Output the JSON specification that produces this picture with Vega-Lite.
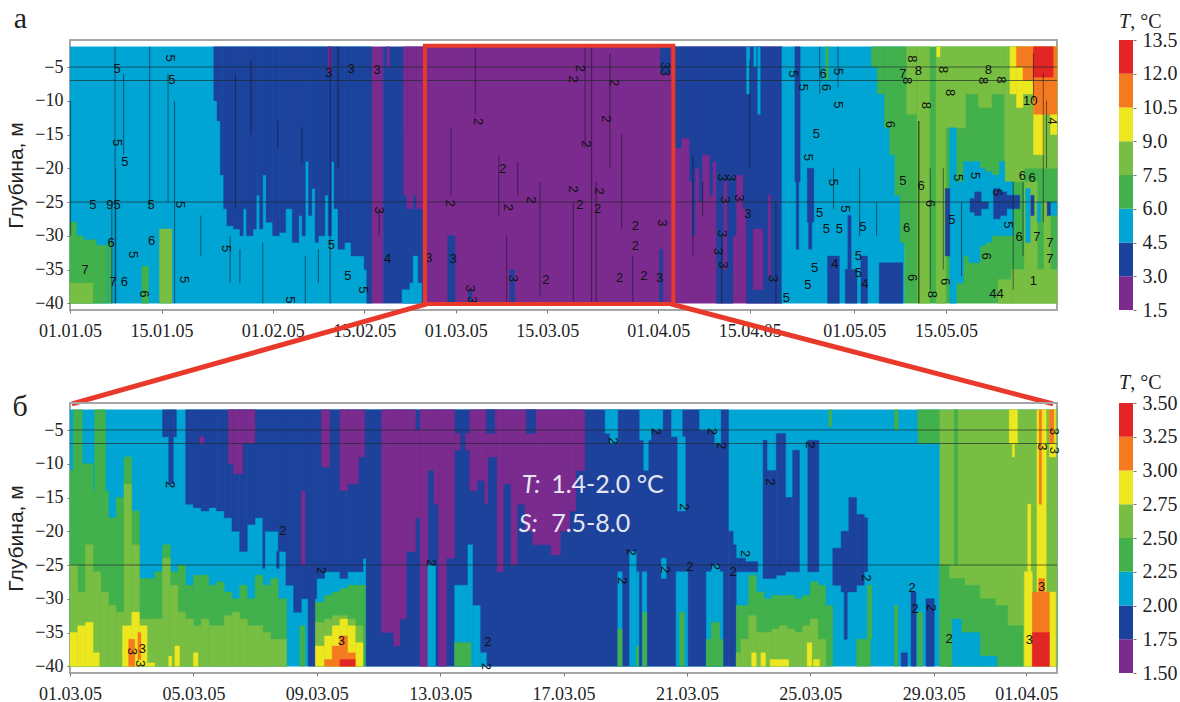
{
"$schema":"https://vega.github.io/schema/vega-lite/v6.json",
"background":"white",
"padding":{"left":4,"top":2,"right":2,"bottom":2},
"config":{"view":{"stroke":null},"axis":{"grid":false,"domain":false,"tickColor":"#777","tickSize":3,"labelFont":"Liberation Sans Narrow","labelFontSize":18,"labelColor":"#222","labelOverlap":false,"labelBound":false,"labelFlush":false}},
"datasets":{
"cellsA":[
{"x0":0,"x1":46,"z0":-2,"z1":-40,"T":5},
{"x0":0,"x1":1,"z0":-28,"z1":-40,"T":7},{"x0":1,"x1":2,"z0":-30,"z1":-40,"T":7},{"x0":2,"x1":4,"z0":-30.6,"z1":-40,"T":7},{"x0":4,"x1":5.7,"z0":-31.4,"z1":-40,"T":7},
{"x0":0,"x1":3.5,"z0":-37,"z1":-40,"T":8},{"x0":5.9,"x1":6.4,"z0":-31,"z1":-40,"T":7},{"x0":11,"x1":12,"z0":-34.5,"z1":-40,"T":7},{"x0":13.7,"x1":15.6,"z0":-29,"z1":-40,"T":8},
{"x0":22,"x1":22.5,"z0":-2,"z1":-10,"T":4},{"x0":22.5,"x1":23,"z0":-2,"z1":-13,"T":4},{"x0":23,"x1":23.5,"z0":-2,"z1":-21,"T":4},{"x0":23.5,"x1":24,"z0":-2,"z1":-26,"T":4},
{"x0":24,"x1":25,"z0":-2,"z1":-28.5,"T":4},{"x0":25,"x1":26,"z0":-2,"z1":-29,"T":4},{"x0":26,"x1":26.5,"z0":-2,"z1":-30,"T":4},{"x0":26.5,"x1":27,"z0":-2,"z1":-26,"T":4},{"x0":27,"x1":28,"z0":-2,"z1":-30,"T":4},{"x0":28,"x1":28.5,"z0":-2,"z1":-29,"T":4},{"x0":28.5,"x1":29,"z0":-2,"z1":-24,"T":4},{"x0":29,"x1":29.5,"z0":-2,"z1":-29,"T":4},{"x0":29.5,"x1":30,"z0":-2,"z1":-21,"T":4},{"x0":30,"x1":31,"z0":-2,"z1":-28,"T":4},{"x0":31,"x1":32,"z0":-2,"z1":-30,"T":4},{"x0":32,"x1":33,"z0":-2,"z1":-29.5,"T":4},{"x0":33,"x1":34,"z0":-2,"z1":-26,"T":4},{"x0":34,"x1":35,"z0":-2,"z1":-31,"T":4},{"x0":35,"x1":35.5,"z0":-2,"z1":-27,"T":4},{"x0":35.5,"x1":36,"z0":-2,"z1":-30,"T":4},{"x0":36,"x1":36.5,"z0":-2,"z1":-19,"T":4},{"x0":36.5,"x1":37,"z0":-2,"z1":-27,"T":4},{"x0":37,"x1":37.5,"z0":-2,"z1":-23,"T":4},{"x0":37.5,"x1":38,"z0":-2,"z1":-31,"T":4},{"x0":38,"x1":39,"z0":-2,"z1":-30,"T":4},{"x0":39,"x1":39.5,"z0":-2,"z1":-24,"T":4},{"x0":39.5,"x1":40,"z0":-2,"z1":-30,"T":4},{"x0":40,"x1":40.4,"z0":-2,"z1":-19,"T":4},{"x0":40.4,"x1":41,"z0":-2,"z1":-26,"T":4},{"x0":41,"x1":42,"z0":-2,"z1":-32,"T":4},{"x0":42,"x1":43,"z0":-2,"z1":-31,"T":4},{"x0":43,"x1":44,"z0":-2,"z1":-33,"T":4},{"x0":44,"x1":45,"z0":-2,"z1":-33,"T":4},{"x0":45,"x1":45.4,"z0":-2,"z1":-35,"T":4},{"x0":45.4,"x1":46.2,"z0":-2,"z1":-40,"T":4},
{"x0":39.5,"x1":40,"z0":-2,"z1":-6,"T":2},
{"x0":46.2,"x1":47.9,"z0":-2,"z1":-40,"T":2},{"x0":47.9,"x1":54,"z0":-2,"z1":-40,"T":4},{"x0":48.5,"x1":48.9,"z0":-2,"z1":-5,"T":2},
{"x0":51,"x1":51.5,"z0":-15,"z1":-24,"T":2},{"x0":51.5,"x1":52.5,"z0":-2,"z1":-26,"T":2},{"x0":51,"x1":51.5,"z0":-2,"z1":-15,"T":2},{"x0":52.5,"x1":53,"z0":-2,"z1":-24,"T":2},{"x0":53,"x1":54,"z0":-2,"z1":-26,"T":2},
{"x0":50.8,"x1":52,"z0":-38,"z1":-40,"T":5},{"x0":52,"x1":52.5,"z0":-37,"z1":-40,"T":5},{"x0":52.5,"x1":53.2,"z0":-33,"z1":-40,"T":5},{"x0":53.2,"x1":53.8,"z0":-37,"z1":-40,"T":5},
{"x0":54,"x1":109,"z0":-2,"z1":-40,"T":2},
{"x0":57.8,"x1":58.9,"z0":-30,"z1":-40,"T":4},{"x0":61,"x1":61.5,"z0":-38,"z1":-40,"T":4},{"x0":67.3,"x1":68,"z0":-35,"z1":-40,"T":4},{"x0":90.2,"x1":90.7,"z0":-32,"z1":-40,"T":4},{"x0":90.3,"x1":91.8,"z0":-2,"z1":-6,"T":4},
{"x0":92.4,"x1":93.5,"z0":-2,"z1":-17,"T":4},{"x0":93.5,"x1":94.8,"z0":-2,"z1":-15.5,"T":4},{"x0":94.8,"x1":95.2,"z0":-2,"z1":-22,"T":4},{"x0":95.2,"x1":95.6,"z0":-2,"z1":-30,"T":4},{"x0":95.6,"x1":96.3,"z0":-2,"z1":-20,"T":4},{"x0":96.3,"x1":96.7,"z0":-2,"z1":-25,"T":4},{"x0":96.7,"x1":97.9,"z0":-2,"z1":-18,"T":4},{"x0":97.9,"x1":98.3,"z0":-2,"z1":-24,"T":4},{"x0":98.3,"x1":98.9,"z0":-2,"z1":-19,"T":4},{"x0":98.9,"x1":101.4,"z0":-2,"z1":-40,"T":4},{"x0":100,"x1":100.5,"z0":-22,"z1":-35,"T":2},{"x0":101.4,"x1":101.9,"z0":-2,"z1":-30,"T":4},{"x0":101.9,"x1":103,"z0":-2,"z1":-21,"T":4},{"x0":103,"x1":103.5,"z0":-2,"z1":-26,"T":4},{"x0":103.5,"x1":108.9,"z0":-2,"z1":-40,"T":4},{"x0":104.5,"x1":106,"z0":-29,"z1":-38,"T":2},{"x0":106.8,"x1":107.2,"z0":-24,"z1":-36,"T":2},{"x0":103.5,"x1":104,"z0":-2,"z1":-9,"T":5},{"x0":104.6,"x1":105,"z0":-2,"z1":-5,"T":5},{"x0":105.2,"x1":105.6,"z0":-2,"z1":-12,"T":5},
{"x0":108.9,"x1":127.7,"z0":-2,"z1":-40,"T":5},
{"x0":110.9,"x1":111.7,"z0":-2,"z1":-22,"T":4},{"x0":111.1,"x1":111.5,"z0":-22,"z1":-32,"T":4},{"x0":112.8,"x1":113.8,"z0":-20,"z1":-28,"T":4},{"x0":113,"x1":113.5,"z0":-28,"z1":-32,"T":4},{"x0":115.9,"x1":117.7,"z0":-33,"z1":-40,"T":4},{"x0":118.6,"x1":120.4,"z0":-35,"z1":-40,"T":4},{"x0":119,"x1":119.5,"z0":-27,"z1":-35,"T":4},{"x0":121,"x1":122,"z0":-33,"z1":-40,"T":4},{"x0":123.8,"x1":127.4,"z0":-34,"z1":-40,"T":4},
{"x0":115.6,"x1":116,"z0":-2,"z1":-7,"T":7},{"x0":122.6,"x1":124.6,"z0":-2,"z1":-5,"T":7},{"x0":123.5,"x1":124.6,"z0":-5,"z1":-9,"T":7},
{"x0":124.6,"x1":125.4,"z0":-2,"z1":-14,"T":7},{"x0":125.4,"x1":126.2,"z0":-2,"z1":-18,"T":7},{"x0":126.2,"x1":127,"z0":-2,"z1":-24,"T":7},{"x0":127,"x1":127.7,"z0":-2,"z1":-31,"T":7},{"x0":127.7,"x1":151,"z0":-2,"z1":-40,"T":7},
{"x0":128,"x1":129.5,"z0":-2,"z1":-12,"T":8},{"x0":129.6,"x1":131.5,"z0":-2,"z1":-40,"T":8},{"x0":132.5,"x1":134,"z0":-2,"z1":-40,"T":8},{"x0":134,"x1":137,"z0":-2,"z1":-14,"T":8},{"x0":137,"x1":143,"z0":-2,"z1":-9,"T":8},{"x0":139,"x1":141,"z0":-9,"z1":-11,"T":8},{"x0":143,"x1":146,"z0":-2,"z1":-22,"T":8},{"x0":146,"x1":151,"z0":-2,"z1":-20,"T":8},{"x0":144,"x1":151,"z0":-35,"z1":-40,"T":8},{"x0":142,"x1":144,"z0":-36.5,"z1":-40,"T":8},{"x0":146,"x1":148,"z0":-22,"z1":-35,"T":8},{"x0":149,"x1":150,"z0":-25,"z1":-35,"T":8},
{"x0":134.6,"x1":135.6,"z0":-14,"z1":-40,"T":5},{"x0":135.6,"x1":136.7,"z0":-22,"z1":-37,"T":5},{"x0":136.7,"x1":137.5,"z0":-19,"z1":-33,"T":5},{"x0":137.5,"x1":139.2,"z0":-19,"z1":-34,"T":5},{"x0":139.2,"x1":140,"z0":-20,"z1":-31.5,"T":5},{"x0":140,"x1":141,"z0":-20.5,"z1":-31,"T":5},{"x0":141,"x1":142.2,"z0":-21,"z1":-30,"T":5},{"x0":142.2,"x1":143,"z0":-19,"z1":-30,"T":5},{"x0":143,"x1":144.3,"z0":-22,"z1":-30,"T":5},
{"x0":146.2,"x1":146.9,"z0":-23,"z1":-31,"T":5},{"x0":148,"x1":148.5,"z0":-25,"z1":-28,"T":5},{"x0":150,"x1":151,"z0":-25,"z1":-27,"T":5},
{"x0":133.9,"x1":134.6,"z0":-23,"z1":-33,"T":4},{"x0":137.7,"x1":138.4,"z0":-24.5,"z1":-26.5,"T":4},{"x0":138.4,"x1":139.4,"z0":-23.5,"z1":-27,"T":4},{"x0":139.4,"x1":140.5,"z0":-25,"z1":-26,"T":4},{"x0":141.3,"x1":142.3,"z0":-23,"z1":-27.5,"T":4},{"x0":142.3,"x1":143.3,"z0":-23.5,"z1":-27,"T":4},{"x0":143.3,"x1":145.3,"z0":-24,"z1":-26,"T":4},{"x0":147,"x1":147.5,"z0":-24,"z1":-27,"T":4},{"x0":149.5,"x1":150,"z0":-25,"z1":-27,"T":4},
{"x0":132.6,"x1":133.1,"z0":-2,"z1":-3.5,"T":10},{"x0":143.8,"x1":144.8,"z0":-2,"z1":-9,"T":10},{"x0":144.8,"x1":145.8,"z0":-2,"z1":-11,"T":10},{"x0":145.8,"x1":147.4,"z0":-2,"z1":-9,"T":10},{"x0":147.4,"x1":149,"z0":-2,"z1":-18,"T":10},{"x0":150,"x1":151,"z0":-2,"z1":-15,"T":10},
{"x0":144.8,"x1":145.8,"z0":-2,"z1":-5,"T":11},{"x0":145.8,"x1":147.4,"z0":-2,"z1":-7,"T":11},{"x0":147.4,"x1":150.5,"z0":-2,"z1":-12,"T":11},{"x0":147.4,"x1":150.5,"z0":-2,"z1":-6.5,"T":13},{"x0":150.5,"x1":151,"z0":-2,"z1":-12,"T":11}
],
"streaksA":[
{"x":6.9,"z0":-2,"z1":-40},{"x":8.2,"z0":-6,"z1":-18},{"x":12.2,"z0":-2,"z1":-26},{"x":15,"z0":-6,"z1":-25},{"x":16,"z0":-10,"z1":-40},{"x":7,"z0":-20,"z1":-40},{"x":0.1,"z0":-10,"z1":-30},{"x":6.4,"z0":-25,"z1":-40},{"x":20,"z0":-27,"z1":-33},{"x":24.5,"z0":-30,"z1":-37},{"x":26,"z0":-32,"z1":-37},{"x":29.5,"z0":-31,"z1":-40},{"x":36,"z0":-33,"z1":-40},{"x":38,"z0":-32,"z1":-37},{"x":41,"z0":-2,"z1":-20},{"x":39.8,"z0":-2,"z1":-40},{"x":25.3,"z0":-6,"z1":-26},{"x":27.7,"z0":-4,"z1":-15},{"x":47.3,"z0":-26,"z1":-30},{"x":31.8,"z0":-13,"z1":-17},{"x":35.5,"z0":-14,"z1":-19},
{"x":58.3,"z0":-14,"z1":-24},{"x":62,"z0":-2,"z1":-12},{"x":65.6,"z0":-18,"z1":-27},{"x":68.5,"z0":-19,"z1":-24},{"x":71.9,"z0":-22,"z1":-39},{"x":66.8,"z0":-30,"z1":-40},{"x":78.8,"z0":-2,"z1":-17},{"x":79.8,"z0":-2,"z1":-40},{"x":82.6,"z0":-3,"z1":-20},{"x":80.5,"z0":-22,"z1":-40},{"x":84.4,"z0":-15,"z1":-29},{"x":86.1,"z0":-33,"z1":-40},{"x":77,"z0":-25,"z1":-40},{"x":95.3,"z0":-18,"z1":-33},{"x":96.8,"z0":-22,"z1":-27},{"x":99.7,"z0":-30,"z1":-40},{"x":108,"z0":-25,"z1":-40},{"x":104,"z0":-4,"z1":-20},
{"x":114.7,"z0":-2,"z1":-9},{"x":117.5,"z0":-2,"z1":-8},{"x":129.8,"z0":-13,"z1":-40},{"x":129.9,"z0":-13,"z1":-40},{"x":131.6,"z0":-20,"z1":-38},{"x":133.6,"z0":-20,"z1":-35},{"x":136.4,"z0":-25,"z1":-36},{"x":144.3,"z0":-22,"z1":-38},{"x":145.8,"z0":-22,"z1":-33},{"x":148.9,"z0":-6,"z1":-28},{"x":149.4,"z0":-10,"z1":-20},{"x":147.4,"z0":-3,"z1":-10},{"x":123.4,"z0":-25,"z1":-30},{"x":120.8,"z0":-20,"z1":-30},{"x":116.8,"z0":-20,"z1":-26}
],
"labelsA":[
{"x":7.2,"z":-5.3,"label":"5"},{"x":8.4,"z":-19,"label":"5"},{"x":3.5,"z":-25.5,"label":"5"},{"x":6.1,"z":-25.5,"label":"9"},{"x":7.2,"z":-25.5,"label":"5"},{"x":12.4,"z":-25.5,"label":"5"},{"x":15.6,"z":-6.9,"label":"5"},{"x":2.3,"z":-35,"label":"7"},{"x":6.6,"z":-36.8,"label":"7"},{"x":8.3,"z":-36.8,"label":"6"},{"x":6.3,"z":-31,"label":"6"},{"x":12.5,"z":-30.8,"label":"6"},{"x":42.5,"z":-36,"label":"5"},{"x":40,"z":-31.3,"label":"5"},{"x":39.6,"z":-5.9,"label":"3"},{"x":43,"z":-5.3,"label":"3"},{"x":47,"z":-5.4,"label":"3"},{"x":48.6,"z":-33.5,"label":"4"},{"x":54.9,"z":-33.3,"label":"3"},{"x":58.6,"z":-33.5,"label":"3"},{"x":66.2,"z":-20.1,"label":"2"},{"x":72.8,"z":-36.5,"label":"2"},{"x":84.1,"z":-36.2,"label":"2"},{"x":87.8,"z":-36,"label":"2"},{"x":90.2,"z":-36.2,"label":"3"},{"x":86.5,"z":-28.5,"label":"2"},{"x":86.5,"z":-31.5,"label":"2"},{"x":103.7,"z":-26.8,"label":"3"},{"x":80.7,"z":-26,"label":"2"},{"x":78,"z":-25.5,"label":"2"},
{"x":114.2,"z":-14.9,"label":"5"},{"x":114.7,"z":-26.6,"label":"5"},{"x":115.7,"z":-29,"label":"5"},{"x":117.7,"z":-29,"label":"5"},{"x":121.3,"z":-28.7,"label":"5"},{"x":113.9,"z":-34.8,"label":"5"},{"x":112.9,"z":-37.3,"label":"5"},{"x":109.6,"z":-39.2,"label":"5"},{"x":120.6,"z":-33,"label":"5"},{"x":120.6,"z":-35.5,"label":"5"},{"x":117,"z":-34.2,"label":"4"},{"x":121.6,"z":-37.1,"label":"4"},{"x":115.2,"z":-6,"label":"6"},{"x":129.8,"z":-5.6,"label":"8"},{"x":140.5,"z":-5.5,"label":"8"},{"x":127.4,"z":-6,"label":"7"},{"x":130.2,"z":-22.6,"label":"6"},{"x":128,"z":-28.8,"label":"6"},{"x":134.9,"z":-27.6,"label":"5"},{"x":127.4,"z":-21.9,"label":"5"},{"x":146.9,"z":-10,"label":"10"},{"x":145.7,"z":-21.1,"label":"6"},{"x":147.2,"z":-21.5,"label":"6"},{"x":145.2,"z":-30.2,"label":"6"},{"x":147.9,"z":-30.2,"label":"7"},{"x":149.9,"z":-31,"label":"7"},{"x":149.9,"z":-33.5,"label":"7"},{"x":147.4,"z":-36.7,"label":"1"},{"x":141.2,"z":-38.7,"label":"4"},{"x":142.3,"z":-38.7,"label":"4"}
],
"labelsArot":[
{"x":7.2,"z":-16.2,"label":"5"},{"x":15.3,"z":-3.7,"label":"5"},{"x":16.8,"z":-25.4,"label":"5"},{"x":9.6,"z":-32.8,"label":"5"},{"x":23.9,"z":-31.9,"label":"5"},{"x":17.5,"z":-36.5,"label":"5"},{"x":47.2,"z":-26.2,"label":"3"},{"x":11.3,"z":-38.6,"label":"6"},{"x":44.9,"z":-38,"label":"5"},{"x":33.7,"z":-39.5,"label":"5"},{"x":62.4,"z":-13.1,"label":"2"},{"x":58.1,"z":-25.2,"label":"2"},{"x":67,"z":-25.8,"label":"2"},{"x":70.6,"z":-24.7,"label":"2"},{"x":77,"z":-23.1,"label":"2"},{"x":81,"z":-23.4,"label":"2"},{"x":79,"z":-16.4,"label":"2"},{"x":82,"z":-12.7,"label":"2"},{"x":77,"z":-6.8,"label":"2"},{"x":78,"z":-5.2,"label":"2"},{"x":83.3,"z":-7.3,"label":"2"},{"x":90.5,"z":-28.1,"label":"3"},{"x":99.7,"z":-21.4,"label":"3"},{"x":101.2,"z":-21.4,"label":"3"},{"x":100.2,"z":-24.7,"label":"3"},{"x":102.4,"z":-24.4,"label":"3"},{"x":99.7,"z":-29.7,"label":"3"},{"x":99.1,"z":-32.3,"label":"3"},{"x":99.9,"z":-34.3,"label":"3"},{"x":107.5,"z":-36.3,"label":"3"},{"x":91,"z":-4.8,"label":"3"},{"x":91,"z":-5.8,"label":"3"},{"x":67.7,"z":-36.3,"label":"3"},{"x":61.2,"z":-37.8,"label":"3"},{"x":61.5,"z":-39.5,"label":"3"},
{"x":110.6,"z":-6,"label":"5"},{"x":112.2,"z":-8,"label":"5"},{"x":117.5,"z":-5.7,"label":"5"},{"x":117.5,"z":-10.6,"label":"5"},{"x":112.9,"z":-18.4,"label":"5"},{"x":116.8,"z":-22.1,"label":"5"},{"x":118.5,"z":-26,"label":"5"},{"x":115.6,"z":-8,"label":"6"},{"x":125.4,"z":-13.5,"label":"6"},{"x":134.6,"z":-8.8,"label":"8"},{"x":128.8,"z":-3.8,"label":"8"},{"x":133.6,"z":-5.4,"label":"8"},{"x":142.5,"z":-6.9,"label":"8"},{"x":139.7,"z":-7,"label":"8"},{"x":128,"z":-7,"label":"8"},{"x":131,"z":-10.7,"label":"8"},{"x":131.6,"z":-25.2,"label":"6"},{"x":135.9,"z":-21.4,"label":"5"},{"x":138.4,"z":-21.1,"label":"5"},{"x":141.8,"z":-23.6,"label":"5"},{"x":143.5,"z":-28.4,"label":"5"},{"x":128.8,"z":-36.2,"label":"6"},{"x":133.9,"z":-36.8,"label":"6"},{"x":140.2,"z":-33,"label":"6"},{"x":150.2,"z":-13,"label":"4"},{"x":131.8,"z":-38.7,"label":"8"}
],
"cellsB":[
{"x0":0,"x1":32,"z0":-2,"z1":-40,"T":2.1},
{"x0":0,"x1":0.25,"z0":-11,"z1":-40,"T":2.4},{"x0":0.1,"x1":0.4,"z0":-2,"z1":-11,"T":2.4},{"x0":0.25,"x1":0.5,"z0":-10,"z1":-40,"T":2.4},{"x0":0.5,"x1":0.75,"z0":-10,"z1":-40,"T":2.4},{"x0":0.75,"x1":1,"z0":-14,"z1":-40,"T":2.4},{"x0":0.8,"x1":1.15,"z0":-2,"z1":-14,"T":2.4},{"x0":1,"x1":1.25,"z0":-14,"z1":-40,"T":2.4},{"x0":1.25,"x1":1.5,"z0":-18,"z1":-40,"T":2.4},{"x0":1.5,"x1":1.75,"z0":-15,"z1":-40,"T":2.4},{"x0":1.75,"x1":2,"z0":-9,"z1":-40,"T":2.4},{"x0":2,"x1":2.25,"z0":-17,"z1":-40,"T":2.4},{"x0":2.25,"x1":2.5,"z0":-27,"z1":-40,"T":2.4},{"x0":2.5,"x1":2.75,"z0":-27,"z1":-40,"T":2.4},{"x0":2.75,"x1":3,"z0":-26,"z1":-40,"T":2.4},{"x0":3,"x1":3.25,"z0":-22,"z1":-40,"T":2.4},{"x0":3.25,"x1":3.5,"z0":-26,"z1":-40,"T":2.4},{"x0":3.5,"x1":3.75,"z0":-25,"z1":-40,"T":2.4},{"x0":3.75,"x1":4,"z0":-28,"z1":-40,"T":2.4},{"x0":4,"x1":4.25,"z0":-26.5,"z1":-40,"T":2.4},{"x0":4.25,"x1":4.5,"z0":-26.5,"z1":-40,"T":2.4},{"x0":4.5,"x1":4.75,"z0":-28,"z1":-40,"T":2.4},{"x0":4.75,"x1":5,"z0":-27.5,"z1":-40,"T":2.4},{"x0":5,"x1":5.25,"z0":-29,"z1":-40,"T":2.4},{"x0":5.25,"x1":5.5,"z0":-30,"z1":-40,"T":2.4},{"x0":5.5,"x1":5.75,"z0":-28,"z1":-40,"T":2.4},{"x0":5.75,"x1":6,"z0":-30,"z1":-40,"T":2.4},{"x0":6,"x1":6.25,"z0":-26.5,"z1":-40,"T":2.4},{"x0":6.25,"x1":6.5,"z0":-28,"z1":-40,"T":2.4},{"x0":6.5,"x1":6.75,"z0":-27,"z1":-40,"T":2.4},{"x0":6.75,"x1":7.02,"z0":-30,"z1":-40,"T":2.4},{"x0":7.45,"x1":7.62,"z0":-34,"z1":-40,"T":2.4},
{"x0":7.94,"x1":8.25,"z0":-30.5,"z1":-40,"T":2.4},{"x0":8.25,"x1":8.5,"z0":-29.5,"z1":-40,"T":2.4},{"x0":8.5,"x1":8.75,"z0":-29,"z1":-40,"T":2.4},{"x0":8.75,"x1":9,"z0":-28.5,"z1":-40,"T":2.4},{"x0":9,"x1":9.58,"z0":-28,"z1":-40,"T":2.4},
{"x0":0,"x1":0.25,"z0":-25,"z1":-40,"T":2.6},{"x0":0.25,"x1":0.5,"z0":-29,"z1":-40,"T":2.6},{"x0":0.5,"x1":0.75,"z0":-22,"z1":-40,"T":2.6},{"x0":0.75,"x1":1,"z0":-26,"z1":-40,"T":2.6},{"x0":1,"x1":1.25,"z0":-29,"z1":-40,"T":2.6},{"x0":1.25,"x1":1.5,"z0":-31,"z1":-40,"T":2.6},{"x0":1.5,"x1":1.75,"z0":-32,"z1":-40,"T":2.6},{"x0":1.75,"x1":2,"z0":-13,"z1":-40,"T":2.6},{"x0":2,"x1":2.25,"z0":-22,"z1":-40,"T":2.6},{"x0":2.25,"x1":3,"z0":-33,"z1":-40,"T":2.6},{"x0":3,"x1":3.25,"z0":-24,"z1":-40,"T":2.6},{"x0":3.25,"x1":3.5,"z0":-28,"z1":-40,"T":2.6},{"x0":3.5,"x1":3.75,"z0":-32,"z1":-40,"T":2.6},{"x0":3.75,"x1":4,"z0":-33,"z1":-40,"T":2.6},{"x0":4,"x1":4.25,"z0":-34,"z1":-40,"T":2.6},{"x0":4.25,"x1":4.5,"z0":-33,"z1":-40,"T":2.6},{"x0":4.5,"x1":5,"z0":-34,"z1":-40,"T":2.6},{"x0":5,"x1":5.25,"z0":-32.5,"z1":-40,"T":2.6},{"x0":5.25,"x1":5.5,"z0":-32,"z1":-40,"T":2.6},{"x0":5.5,"x1":5.75,"z0":-33,"z1":-40,"T":2.6},{"x0":5.75,"x1":6.25,"z0":-34,"z1":-40,"T":2.6},{"x0":6.25,"x1":6.5,"z0":-35,"z1":-40,"T":2.6},{"x0":6.5,"x1":7.02,"z0":-36,"z1":-40,"T":2.6},
{"x0":7.94,"x1":8.25,"z0":-33.5,"z1":-40,"T":2.6},{"x0":8.25,"x1":8.5,"z0":-33,"z1":-40,"T":2.6},{"x0":8.5,"x1":9,"z0":-32.5,"z1":-40,"T":2.6},{"x0":9,"x1":9.25,"z0":-33,"z1":-40,"T":2.6},{"x0":9.25,"x1":9.5,"z0":-34,"z1":-40,"T":2.6},
{"x0":0,"x1":0.25,"z0":-35,"z1":-40,"T":2.9},{"x0":0.25,"x1":0.5,"z0":-34,"z1":-40,"T":2.9},{"x0":0.5,"x1":0.75,"z0":-33.5,"z1":-40,"T":2.9},{"x0":0.75,"x1":0.95,"z0":-38,"z1":-40,"T":2.9},{"x0":1.7,"x1":2,"z0":-34,"z1":-40,"T":2.9},{"x0":2,"x1":2.25,"z0":-32,"z1":-40,"T":2.9},{"x0":2.25,"x1":2.5,"z0":-34,"z1":-40,"T":2.9},{"x0":2.5,"x1":2.75,"z0":-39.5,"z1":-40,"T":2.9},{"x0":3.2,"x1":3.3,"z0":-38.5,"z1":-40,"T":2.9},{"x0":3.4,"x1":3.55,"z0":-37,"z1":-40,"T":2.9},{"x0":4,"x1":4.15,"z0":-38,"z1":-40,"T":2.9},{"x0":7.94,"x1":8.25,"z0":-37,"z1":-40,"T":2.9},{"x0":8.25,"x1":8.5,"z0":-35.5,"z1":-40,"T":2.9},{"x0":8.5,"x1":8.75,"z0":-34,"z1":-40,"T":2.9},{"x0":8.75,"x1":9,"z0":-33,"z1":-40,"T":2.9},{"x0":9,"x1":9.25,"z0":-34,"z1":-40,"T":2.9},{"x0":9.25,"x1":9.5,"z0":-36.5,"z1":-40,"T":2.9},
{"x0":1.9,"x1":2.1,"z0":-36,"z1":-40,"T":3.1},{"x0":2.2,"x1":2.3,"z0":-35,"z1":-39,"T":3.1},{"x0":8.25,"x1":8.5,"z0":-39,"z1":-40,"T":3.1},{"x0":8.5,"x1":8.75,"z0":-37,"z1":-40,"T":3.1},{"x0":8.75,"x1":9,"z0":-35.5,"z1":-40,"T":3.1},{"x0":9,"x1":9.25,"z0":-38,"z1":-40,"T":3.1},{"x0":8.75,"x1":9.25,"z0":-39,"z1":-40,"T":3.4},
{"x0":3,"x1":3.2,"z0":-2,"z1":-6,"T":1.9},{"x0":3.2,"x1":3.35,"z0":-2,"z1":-13,"T":1.9},{"x0":3.35,"x1":3.45,"z0":-2,"z1":-6,"T":1.9},
{"x0":3.75,"x1":4,"z0":-2,"z1":-16,"T":1.9},{"x0":4,"x1":4.25,"z0":-2,"z1":-16.5,"T":1.9},{"x0":4.25,"x1":4.5,"z0":-2,"z1":-17,"T":1.9},{"x0":4.5,"x1":4.75,"z0":-2,"z1":-16.5,"T":1.9},{"x0":4.75,"x1":5,"z0":-2,"z1":-17,"T":1.9},{"x0":5,"x1":5.25,"z0":-2,"z1":-18,"T":1.9},{"x0":5.25,"x1":5.5,"z0":-2,"z1":-20,"T":1.9},{"x0":5.5,"x1":5.75,"z0":-2,"z1":-23,"T":1.9},{"x0":5.75,"x1":6,"z0":-2,"z1":-19,"T":1.9},{"x0":6,"x1":6.25,"z0":-2,"z1":-18,"T":1.9},{"x0":6.25,"x1":6.5,"z0":-2,"z1":-20,"T":1.9},{"x0":6.5,"x1":6.75,"z0":-2,"z1":-20,"T":1.9},{"x0":6.75,"x1":7,"z0":-2,"z1":-23,"T":1.9},{"x0":7,"x1":7.25,"z0":-2,"z1":-28,"T":1.9},{"x0":7.25,"x1":7.5,"z0":-2,"z1":-32,"T":1.9},{"x0":7.5,"x1":8,"z0":-2,"z1":-30,"T":1.9},{"x0":8,"x1":8.25,"z0":-2,"z1":-27,"T":1.9},{"x0":8.25,"x1":8.75,"z0":-2,"z1":-26,"T":1.9},{"x0":8.75,"x1":9,"z0":-2,"z1":-27,"T":1.9},{"x0":9,"x1":9.5,"z0":-2,"z1":-26,"T":1.9},{"x0":9.5,"x1":9.6,"z0":-2,"z1":-24,"T":1.9},
{"x0":6.25,"x1":6.32,"z0":-20,"z1":-25.5,"T":1.9},{"x0":6.7,"x1":6.78,"z0":-23,"z1":-25.5,"T":1.9},{"x0":7.72,"x1":7.94,"z0":-30,"z1":-40,"T":1.9},
{"x0":9.6,"x1":21.35,"z0":-2,"z1":-40,"T":1.9},{"x0":21.35,"x1":21.5,"z0":-20,"z1":-40,"T":1.9},{"x0":21.5,"x1":21.6,"z0":-22,"z1":-40,"T":1.9},{"x0":21.6,"x1":21.9,"z0":-24,"z1":-26,"T":1.9},{"x0":21.9,"x1":22.3,"z0":-24.5,"z1":-26,"T":1.9},
{"x0":5.13,"x1":5.3,"z0":-2,"z1":-10,"T":1.6},{"x0":5.3,"x1":5.6,"z0":-2,"z1":-11.5,"T":1.6},{"x0":5.6,"x1":5.75,"z0":-2,"z1":-7,"T":1.6},{"x0":5.75,"x1":6,"z0":-2,"z1":-7,"T":1.6},{"x0":4.2,"x1":4.35,"z0":-6,"z1":-7,"T":1.6},{"x0":7.5,"x1":7.62,"z0":-14,"z1":-25,"T":1.6},{"x0":8.15,"x1":8.42,"z0":-2,"z1":-10.5,"T":1.6},{"x0":8.75,"x1":9,"z0":-2,"z1":-14,"T":1.6},{"x0":9,"x1":9.35,"z0":-2,"z1":-13,"T":1.6},{"x0":9.35,"x1":9.56,"z0":-2,"z1":-9,"T":1.6},
{"x0":10.1,"x1":10.5,"z0":-2,"z1":-35,"T":1.6},{"x0":10.5,"x1":10.7,"z0":-2,"z1":-37,"T":1.6},{"x0":10.7,"x1":10.9,"z0":-2,"z1":-33,"T":1.6},{"x0":10.9,"x1":11.2,"z0":-2,"z1":-23,"T":1.6},{"x0":11.2,"x1":11.35,"z0":-5,"z1":-18,"T":1.6},{"x0":11.35,"x1":11.6,"z0":-2,"z1":-40,"T":1.6},{"x0":11.6,"x1":11.8,"z0":-2,"z1":-11,"T":1.6},{"x0":11.8,"x1":11.95,"z0":-2,"z1":-16,"T":1.6},{"x0":11.95,"x1":12.2,"z0":-2,"z1":-40,"T":1.6},{"x0":12.2,"x1":12.47,"z0":-2,"z1":-24,"T":1.6},{"x0":12.47,"x1":12.65,"z0":-5.5,"z1":-8,"T":1.6},{"x0":12.82,"x1":12.96,"z0":-5.5,"z1":-8,"T":1.6},{"x0":12.96,"x1":13.2,"z0":-2,"z1":-14,"T":1.6},{"x0":13.2,"x1":13.45,"z0":-2,"z1":-12.5,"T":1.6},{"x0":13.45,"x1":13.55,"z0":-2,"z1":-16,"T":1.6},{"x0":13.55,"x1":13.85,"z0":-2,"z1":-9,"T":1.6},{"x0":13.85,"x1":14.05,"z0":-2,"z1":-26,"T":1.6},{"x0":14.05,"x1":14.3,"z0":-2,"z1":-13,"T":1.6},{"x0":14.3,"x1":14.5,"z0":-2,"z1":-25,"T":1.6},{"x0":14.5,"x1":14.75,"z0":-2,"z1":-16,"T":1.6},{"x0":14.75,"x1":15,"z0":-2,"z1":-20,"T":1.6},{"x0":15,"x1":15.6,"z0":-2,"z1":-22,"T":1.6},{"x0":15.6,"x1":15.9,"z0":-2,"z1":-23.5,"T":1.6},{"x0":15.9,"x1":16.2,"z0":-2,"z1":-20,"T":1.6},{"x0":16.2,"x1":16.4,"z0":-2,"z1":-17,"T":1.6},{"x0":16.4,"x1":16.69,"z0":-2,"z1":-11,"T":1.6},
{"x0":13.5,"x1":13.77,"z0":-2,"z1":-5.5,"T":1.9},{"x0":14.8,"x1":15.1,"z0":-2,"z1":-5.5,"T":1.9},
{"x0":11.6,"x1":11.85,"z0":-25,"z1":-40,"T":2.1},{"x0":12.47,"x1":12.9,"z0":-28,"z1":-40,"T":2.1},{"x0":12.9,"x1":13.05,"z0":-22,"z1":-40,"T":2.1},{"x0":13.05,"x1":13.3,"z0":-31,"z1":-40,"T":2.1},{"x0":13.3,"x1":13.5,"z0":-38,"z1":-40,"T":2.1},{"x0":12.47,"x1":13,"z0":-36.5,"z1":-40,"T":2.4},
{"x0":17.35,"x1":17.76,"z0":-2,"z1":-5.5,"T":2.1},{"x0":17.5,"x1":17.76,"z0":-5.5,"z1":-7,"T":2.1},{"x0":18.47,"x1":18.84,"z0":-2,"z1":-6.5,"T":2.1},{"x0":18.6,"x1":18.75,"z0":-6.5,"z1":-11,"T":2.1},{"x0":18.84,"x1":19.22,"z0":-2,"z1":-5,"T":2.1},{"x0":19.5,"x1":19.85,"z0":-2,"z1":-6,"T":2.1},{"x0":19.7,"x1":19.95,"z0":-6,"z1":-17,"T":2.1},{"x0":20.41,"x1":20.9,"z0":-2,"z1":-5,"T":2.1},{"x0":20.9,"x1":21.1,"z0":-2,"z1":-7,"T":2.1},
{"x0":17.76,"x1":17.9,"z0":-26,"z1":-40,"T":2.1},{"x0":17.76,"x1":17.9,"z0":-34.5,"z1":-40,"T":2.4},{"x0":18.14,"x1":18.36,"z0":-23,"z1":-40,"T":2.1},{"x0":18.36,"x1":18.45,"z0":-26,"z1":-40,"T":2.1},{"x0":18.55,"x1":18.7,"z0":-26,"z1":-40,"T":2.1},{"x0":18.36,"x1":18.43,"z0":-37,"z1":-40,"T":2.4},{"x0":18.57,"x1":18.7,"z0":-32,"z1":-40,"T":2.4},{"x0":19.17,"x1":19.33,"z0":-24,"z1":-27,"T":2.1},{"x0":19.65,"x1":20.03,"z0":-26,"z1":-40,"T":2.1},{"x0":19.76,"x1":19.92,"z0":-32,"z1":-40,"T":2.4},{"x0":20.63,"x1":21.17,"z0":-26,"z1":-40,"T":2.1},{"x0":20.79,"x1":21.06,"z0":-25,"z1":-26,"T":2.1},{"x0":20.63,"x1":21.17,"z0":-36,"z1":-40,"T":2.4},{"x0":20.79,"x1":21.06,"z0":-33.5,"z1":-36,"T":2.4},
{"x0":21.6,"x1":22,"z0":-31,"z1":-40,"T":2.4},{"x0":22,"x1":22.25,"z0":-26.5,"z1":-40,"T":2.4},{"x0":22.25,"x1":22.5,"z0":-29,"z1":-40,"T":2.4},{"x0":22.5,"x1":22.75,"z0":-30,"z1":-40,"T":2.4},{"x0":22.75,"x1":23.5,"z0":-29.5,"z1":-40,"T":2.4},{"x0":23.5,"x1":23.75,"z0":-30,"z1":-40,"T":2.4},{"x0":23.75,"x1":24,"z0":-29.5,"z1":-40,"T":2.4},{"x0":24,"x1":24.25,"z0":-27.5,"z1":-40,"T":2.4},{"x0":24.25,"x1":24.5,"z0":-28,"z1":-40,"T":2.4},{"x0":24.5,"x1":24.73,"z0":-31,"z1":-40,"T":2.4},
{"x0":21.6,"x1":21.75,"z0":-38,"z1":-40,"T":2.6},{"x0":21.75,"x1":22,"z0":-36,"z1":-40,"T":2.6},{"x0":22,"x1":22.25,"z0":-32.5,"z1":-40,"T":2.6},{"x0":22.25,"x1":22.75,"z0":-35,"z1":-40,"T":2.6},{"x0":22.75,"x1":23,"z0":-34.5,"z1":-40,"T":2.6},{"x0":23,"x1":23.25,"z0":-34,"z1":-40,"T":2.6},{"x0":23.25,"x1":23.5,"z0":-34.5,"z1":-40,"T":2.6},{"x0":23.5,"x1":23.75,"z0":-35,"z1":-40,"T":2.6},{"x0":23.75,"x1":24,"z0":-34,"z1":-40,"T":2.6},{"x0":24,"x1":24.25,"z0":-33,"z1":-40,"T":2.6},{"x0":24.25,"x1":24.5,"z0":-36,"z1":-40,"T":2.6},
{"x0":22.1,"x1":22.25,"z0":-38,"z1":-40,"T":2.9},{"x0":22.4,"x1":22.55,"z0":-38,"z1":-40,"T":2.9},{"x0":22.7,"x1":23.3,"z0":-39,"z1":-40,"T":2.9},{"x0":23.9,"x1":24.05,"z0":-36.5,"z1":-40,"T":2.9},{"x0":24.1,"x1":24.3,"z0":-39,"z1":-40,"T":2.9},
{"x0":22.47,"x1":22.6,"z0":-6.5,"z1":-27,"T":1.9},{"x0":22.6,"x1":22.9,"z0":-11,"z1":-27,"T":1.9},{"x0":22.9,"x1":23.2,"z0":-5.5,"z1":-26.5,"T":1.9},{"x0":23.2,"x1":23.43,"z0":-15,"z1":-26,"T":1.9},{"x0":23.43,"x1":23.65,"z0":-8,"z1":-26,"T":1.9},{"x0":23.92,"x1":24.28,"z0":-6.5,"z1":-26,"T":1.9},
{"x0":24.73,"x1":25,"z0":-22.5,"z1":-28,"T":1.9},{"x0":25,"x1":25.25,"z0":-20,"z1":-29,"T":1.9},{"x0":25.1,"x1":25.2,"z0":-29,"z1":-36,"T":1.9},{"x0":25.25,"x1":25.5,"z0":-15,"z1":-29,"T":1.9},{"x0":25.5,"x1":25.75,"z0":-17.5,"z1":-28,"T":1.9},{"x0":25.75,"x1":25.86,"z0":-18,"z1":-26,"T":1.9},
{"x0":25.5,"x1":25.95,"z0":-36,"z1":-40,"T":2.4},{"x0":25.85,"x1":26,"z0":-28,"z1":-36,"T":2.4},{"x0":26.73,"x1":26.84,"z0":-31,"z1":-40,"T":2.4},{"x0":27.48,"x1":27.64,"z0":-32,"z1":-40,"T":2.4},{"x0":26.73,"x1":26.85,"z0":-2,"z1":-5,"T":2.4},{"x0":24.6,"x1":24.7,"z0":-2,"z1":-4.5,"T":2.4},
{"x0":26.95,"x1":27.15,"z0":-38,"z1":-40,"T":1.9},{"x0":27.27,"x1":27.43,"z0":-29,"z1":-40,"T":1.9},{"x0":27.75,"x1":28.02,"z0":-30,"z1":-40,"T":1.9},{"x0":28.45,"x1":28.6,"z0":-35.5,"z1":-40,"T":1.9},
{"x0":27.48,"x1":28.2,"z0":-2,"z1":-5.5,"T":2.4},{"x0":27.5,"x1":28.2,"z0":-5.5,"z1":-7,"T":2.4},
{"x0":28.2,"x1":32,"z0":-2,"z1":-40,"T":2.6},
{"x0":28.2,"x1":28.5,"z0":-25,"z1":-40,"T":2.4},{"x0":28.5,"x1":29,"z0":-27,"z1":-40,"T":2.4},{"x0":29,"x1":29.5,"z0":-28,"z1":-40,"T":2.4},{"x0":29.5,"x1":30,"z0":-30,"z1":-40,"T":2.4},{"x0":30,"x1":30.4,"z0":-31,"z1":-40,"T":2.4},{"x0":30.4,"x1":30.9,"z0":-34,"z1":-40,"T":2.4},{"x0":28.67,"x1":28.78,"z0":-2,"z1":-25,"T":2.4},
{"x0":28.6,"x1":28.9,"z0":-33,"z1":-40,"T":2.1},{"x0":28.9,"x1":29.5,"z0":-35,"z1":-40,"T":2.1},{"x0":29.5,"x1":30.05,"z0":-38.5,"z1":-40,"T":2.1},
{"x0":30.45,"x1":30.72,"z0":-2,"z1":-7,"T":2.9},{"x0":30.55,"x1":30.62,"z0":-7,"z1":-9,"T":2.9},{"x0":30.94,"x1":31.2,"z0":-26,"z1":-40,"T":2.9},{"x0":31.05,"x1":31.15,"z0":-16,"z1":-26,"T":2.9},{"x0":31.35,"x1":31.65,"z0":-2,"z1":-29,"T":2.9},{"x0":31.75,"x1":31.96,"z0":-29,"z1":-40,"T":2.9},{"x0":31.75,"x1":31.96,"z0":-2,"z1":-9,"T":2.9},
{"x0":31.2,"x1":31.75,"z0":-29,"z1":-40,"T":3.1},{"x0":31.4,"x1":31.6,"z0":-27,"z1":-29,"T":3.1},{"x0":31.42,"x1":31.5,"z0":-2,"z1":-16,"T":3.1},{"x0":31.75,"x1":31.9,"z0":-2,"z1":-7,"T":3.1},{"x0":31.2,"x1":31.75,"z0":-35,"z1":-40,"T":3.4}
],
"labelsB":[
{"x":6.9,"z":-20,"label":"2"},{"x":2.35,"z":-37.4,"label":"3"},{"x":13.55,"z":-36.4,"label":"2"},{"x":20.1,"z":-25.3,"label":"2"},{"x":21.5,"z":-26,"label":"2"},{"x":27.3,"z":-28.4,"label":"2"},{"x":27.4,"z":-31.5,"label":"2"},{"x":28.5,"z":-36,"label":"2"},{"x":31.1,"z":-36.1,"label":"3"},{"x":31.5,"z":-28.2,"label":"3"},{"x":8.8,"z":-36.3,"label":"3"}
],
"labelsBrot":[
{"x":3.24,"z":-13.1,"label":"2"},{"x":8.15,"z":-25.8,"label":"2"},{"x":2,"z":-37.8,"label":"3"},{"x":2.27,"z":-39.6,"label":"3"},{"x":11.7,"z":-24.7,"label":"2"},{"x":13.5,"z":-40,"label":"2"},{"x":17.6,"z":-6.6,"label":"2"},{"x":19,"z":-5.2,"label":"2"},{"x":17.9,"z":-27.3,"label":"2"},{"x":18.2,"z":-23.1,"label":"2"},{"x":19.3,"z":-25.7,"label":"2"},{"x":19.9,"z":-16.4,"label":"2"},{"x":20.9,"z":-25.2,"label":"2"},{"x":20.8,"z":-5.2,"label":"2"},{"x":21.1,"z":-7.3,"label":"2"},{"x":21.9,"z":-23.3,"label":"2"},{"x":22.7,"z":-12.7,"label":"2"},{"x":24,"z":-7.2,"label":"2"},{"x":25.8,"z":-26.9,"label":"2"},{"x":27.9,"z":-31.3,"label":"2"},{"x":31.5,"z":-7.5,"label":"3"},{"x":31.9,"z":-8,"label":"3"},{"x":31.9,"z":-5.2,"label":"3"}
]
},
"resolve":{"scale":{"fill":"independent","stroke":"independent"}},
"columns":2,
"bounds":"flush",
"spacing":{"row":0,"column":62},
"concat":[
{"width":987,"height":270,"view":{"stroke":"#a6a6a6","strokeWidth":2},
"layer":[
{"data":{"name":"cellsA"},"mark":{"type":"rect","strokeWidth":0.4},
"encoding":{
"x":{"field":"x0","type":"quantitative","scale":{"domain":[0,151],"nice":false,"zero":false},"axis":{"title":null,"values":[0,14,31,45,59,73,90,104,120,134],"tickCount":12,"labelPadding":9,"labelExpr":"{'0':'01.01.05','14':'15.01.05','31':'01.02.05','45':'15.02.05','59':'01.03.05','73':'15.03.05','90':'01.04.05','104':'15.04.05','120':'01.05.05','134':'15.05.05'}[datum.value]"}},
"x2":{"field":"x1"},
"y":{"field":"z0","type":"quantitative","scale":{"domain":[-41,-1],"nice":false,"zero":false},"axis":{"values":[-5,-10,-15,-20,-25,-30,-35,-40],"tickCount":10,"labelOverlap":false,"title":"Глубина, м","titleFont":"Liberation Sans","titleFontSize":21,"titleFontWeight":"normal","titleColor":"#222","titlePadding":8,"labelPadding":4}},
"y2":{"field":"z1"},
"fill":{"field":"T","type":"quantitative","legend":null,"scale":{"type":"threshold","domain":[3,4.5,6,7.5,9,10.5,12],"range":["#7b2a8e","#1c429c","#00a5d4","#43b14b","#78be43","#ede71f","#f47a20","#e42525"]}},
"stroke":{"field":"T","type":"quantitative","legend":null,"scale":{"type":"threshold","domain":[3,4.5,6,7.5,9,10.5,12],"range":["#7b2a8e","#1c429c","#00a5d4","#43b14b","#78be43","#ede71f","#f47a20","#e42525"]}}
}},
{"data":{"name":"streaksA"},"mark":{"type":"rule","color":"#10131f","opacity":0.55,"strokeWidth":1},"encoding":{"x":{"field":"x","type":"quantitative","scale":{"domain":[0,151],"nice":false,"zero":false}},"y":{"field":"z0","type":"quantitative","scale":{"domain":[-41,-1],"nice":false,"zero":false}},"y2":{"field":"z1"}}},
{"data":{"values":[{"z":-5},{"z":-7},{"z":-25}]},"mark":{"type":"rule","color":"#1a2a2a","opacity":0.65,"strokeWidth":1},"encoding":{"y":{"field":"z","type":"quantitative","scale":{"domain":[-41,-1],"nice":false,"zero":false}}}},
{"data":{"name":"labelsA"},"mark":{"type":"text","font":"Liberation Sans","fontSize":13,"color":"#111"},"encoding":{"x":{"field":"x","type":"quantitative","scale":{"domain":[0,151],"nice":false,"zero":false}},"y":{"field":"z","type":"quantitative","scale":{"domain":[-41,-1],"nice":false,"zero":false}},"text":{"field":"label"}}},
{"data":{"name":"labelsArot"},"mark":{"type":"text","font":"Liberation Sans","fontSize":13,"color":"#111","angle":90},"encoding":{"x":{"field":"x","type":"quantitative","scale":{"domain":[0,151],"nice":false,"zero":false}},"y":{"field":"z","type":"quantitative","scale":{"domain":[-41,-1],"nice":false,"zero":false}},"text":{"field":"label"}}},
{"data":{"values":[{"x0":54.3,"x1":92.3,"z0":-1.85,"z1":-40.1}]},"mark":{"type":"rect","fillOpacity":0,"stroke":"#e8392b","strokeWidth":4},"encoding":{"x":{"field":"x0","type":"quantitative","scale":{"domain":[0,151],"nice":false,"zero":false}},"x2":{"field":"x1"},"y":{"field":"z0","type":"quantitative","scale":{"domain":[-41,-1],"nice":false,"zero":false}},"y2":{"field":"z1"}}},
{"data":{"values":[{"x":-7.6,"z":0.8,"label":"а"}]},"mark":{"type":"text","font":"Liberation Serif","fontSize":30,"color":"#222","baseline":"alphabetic"},"encoding":{"x":{"field":"x","type":"quantitative","scale":{"domain":[0,151],"nice":false,"zero":false}},"y":{"field":"z","type":"quantitative","scale":{"domain":[-41,-1],"nice":false,"zero":false}},"text":{"field":"label"}}}
]},
{"width":14,"height":270,
"layer":[
{"data":{"values":[{"lo":1.5,"hi":3,"T":2},{"lo":3,"hi":4.5,"T":4},{"lo":4.5,"hi":6,"T":5},{"lo":6,"hi":7.5,"T":7},{"lo":7.5,"hi":9,"T":8},{"lo":9,"hi":10.5,"T":10},{"lo":10.5,"hi":12,"T":11},{"lo":12,"hi":13.5,"T":13}]},"mark":{"type":"rect"},"encoding":{
"y":{"field":"lo","type":"quantitative","scale":{"domain":[1.5,13.5],"nice":false,"zero":false},"axis":{"orient":"right","title":null,"values":[1.5,3,4.5,6,7.5,9,10.5,12,13.5],"tickCount":10,"labelOverlap":false,"format":".1f","labelFontSize":20,"labelPadding":6}},
"y2":{"field":"hi"},
"fill":{"field":"T","type":"quantitative","legend":null,"scale":{"type":"threshold","domain":[3,4.5,6,7.5,9,10.5,12],"range":["#7b2a8e","#1c429c","#00a5d4","#43b14b","#78be43","#ede71f","#f47a20","#e42525"]}}}},
{"data":{"values":[{"p":0,"v":13.5,"label":"T"}]},"mark":{"type":"text","font":"Liberation Sans Narrow","fontSize":20,"fontStyle":"italic","align":"left","baseline":"alphabetic","dy":-12,"color":"#222"},"encoding":{"x":{"field":"p","type":"quantitative","scale":{"domain":[0,1],"nice":false,"zero":false},"axis":null},"y":{"field":"v","type":"quantitative","scale":{"domain":[1.5,13.5],"nice":false,"zero":false}},"text":{"field":"label"}}},
{"data":{"values":[{"p":0.8,"v":13.5,"label":", °C"}]},"mark":{"type":"text","font":"Liberation Sans Narrow","fontSize":20,"align":"left","baseline":"alphabetic","dy":-12,"color":"#222"},"encoding":{"x":{"field":"p","type":"quantitative","scale":{"domain":[0,1],"nice":false,"zero":false},"axis":null},"y":{"field":"v","type":"quantitative","scale":{"domain":[1.5,13.5],"nice":false,"zero":false}},"text":{"field":"label"}}}
]},
{"width":987,"height":93,
"data":{"values":[{"side":"left","x":54.6,"level":1.065},{"side":"left","x":0.3,"level":-0.01},{"side":"right","x":91.9,"level":1.065},{"side":"right","x":150.4,"level":-0.01}]},
"mark":{"type":"line","color":"#e8392b","strokeWidth":5,"strokeCap":"butt","clip":false},
"encoding":{"x":{"field":"x","type":"quantitative","scale":{"domain":[0,151],"nice":false,"zero":false},"axis":null},"y":{"field":"level","type":"quantitative","scale":{"domain":[0,1],"nice":false,"zero":false},"axis":null},"detail":{"field":"side"}}},
{"width":14,"height":93,"data":{"values":[{"label":""}]},"mark":{"type":"text"},"encoding":{"text":{"field":"label"}}},
{"width":987,"height":270,"view":{"stroke":"#a6a6a6","strokeWidth":2},
"layer":[
{"data":{"name":"cellsB"},"mark":{"type":"rect","strokeWidth":0.4},
"encoding":{
"x":{"field":"x0","type":"quantitative","scale":{"domain":[0,32],"nice":false,"zero":false},"axis":{"title":null,"values":[0,4,8,12,16,20,24,28,31],"tickCount":12,"labelPadding":9,"labelExpr":"{'0':'01.03.05','4':'05.03.05','8':'09.03.05','12':'13.03.05','16':'17.03.05','20':'21.03.05','24':'25.03.05','28':'29.03.05','31':'01.04.05'}[datum.value]"}},
"x2":{"field":"x1"},
"y":{"field":"z0","type":"quantitative","scale":{"domain":[-41,-1],"nice":false,"zero":false},"axis":{"values":[-5,-10,-15,-20,-25,-30,-35,-40],"tickCount":10,"labelOverlap":false,"title":"Глубина, м","titleFont":"Liberation Sans","titleFontSize":21,"titleFontWeight":"normal","titleColor":"#222","titlePadding":8,"labelPadding":4}},
"y2":{"field":"z1"},
"fill":{"field":"T","type":"quantitative","legend":null,"scale":{"type":"threshold","domain":[1.75,2,2.25,2.5,2.75,3,3.25],"range":["#7b2a8e","#1c429c","#00a5d4","#43b14b","#78be43","#ede71f","#f47a20","#e42525"]}},
"stroke":{"field":"T","type":"quantitative","legend":null,"scale":{"type":"threshold","domain":[1.75,2,2.25,2.5,2.75,3,3.25],"range":["#7b2a8e","#1c429c","#00a5d4","#43b14b","#78be43","#ede71f","#f47a20","#e42525"]}}
}},
{"data":{"values":[{"z":-5},{"z":-7},{"z":-25}]},"mark":{"type":"rule","color":"#1a2a2a","opacity":0.65,"strokeWidth":1},"encoding":{"y":{"field":"z","type":"quantitative","scale":{"domain":[-41,-1],"nice":false,"zero":false}}}},
{"data":{"name":"labelsB"},"mark":{"type":"text","font":"Liberation Sans","fontSize":13,"color":"#111"},"encoding":{"x":{"field":"x","type":"quantitative","scale":{"domain":[0,32],"nice":false,"zero":false}},"y":{"field":"z","type":"quantitative","scale":{"domain":[-41,-1],"nice":false,"zero":false}},"text":{"field":"label"}}},
{"data":{"name":"labelsBrot"},"mark":{"type":"text","font":"Liberation Sans","fontSize":13,"color":"#111","angle":90},"encoding":{"x":{"field":"x","type":"quantitative","scale":{"domain":[0,32],"nice":false,"zero":false}},"y":{"field":"z","type":"quantitative","scale":{"domain":[-41,-1],"nice":false,"zero":false}},"text":{"field":"label"}}},
{"data":{"values":[{"x":14.65,"z":-13.2,"label":"T:"},{"x":14.55,"z":-18.9,"label":"S:"}]},"mark":{"type":"text","font":"Lato","fontSize":25,"fontStyle":"italic","align":"left","color":"#e6e6f2"},"encoding":{"x":{"field":"x","type":"quantitative","scale":{"domain":[0,32],"nice":false,"zero":false}},"y":{"field":"z","type":"quantitative","scale":{"domain":[-41,-1],"nice":false,"zero":false}},"text":{"field":"label"}}},
{"data":{"values":[{"x":15.6,"z":-13.2,"label":"1.4-2.0 °C"},{"x":15.6,"z":-18.9,"label":"7.5-8.0"}]},"mark":{"type":"text","font":"Lato","fontSize":25,"align":"left","color":"#e6e6f2"},"encoding":{"x":{"field":"x","type":"quantitative","scale":{"domain":[0,32],"nice":false,"zero":false}},"y":{"field":"z","type":"quantitative","scale":{"domain":[-41,-1],"nice":false,"zero":false}},"text":{"field":"label"}}},
{"data":{"values":[{"x":-1.62,"z":-2.98,"label":"б"}]},"mark":{"type":"text","font":"Liberation Serif","fontSize":30,"color":"#222","baseline":"alphabetic"},"encoding":{"x":{"field":"x","type":"quantitative","scale":{"domain":[0,32],"nice":false,"zero":false}},"y":{"field":"z","type":"quantitative","scale":{"domain":[-41,-1],"nice":false,"zero":false}},"text":{"field":"label"}}}
]},
{"width":14,"height":270,
"layer":[
{"data":{"values":[{"lo":1.5,"hi":1.75,"T":1.6},{"lo":1.75,"hi":2,"T":1.9},{"lo":2,"hi":2.25,"T":2.1},{"lo":2.25,"hi":2.5,"T":2.4},{"lo":2.5,"hi":2.75,"T":2.6},{"lo":2.75,"hi":3,"T":2.9},{"lo":3,"hi":3.25,"T":3.1},{"lo":3.25,"hi":3.5,"T":3.4}]},"mark":{"type":"rect"},"encoding":{
"y":{"field":"lo","type":"quantitative","scale":{"domain":[1.5,3.5],"nice":false,"zero":false},"axis":{"orient":"right","title":null,"values":[1.5,1.75,2,2.25,2.5,2.75,3,3.25,3.5],"tickCount":10,"labelOverlap":false,"format":".2f","labelFontSize":20,"labelPadding":6}},
"y2":{"field":"hi"},
"fill":{"field":"T","type":"quantitative","legend":null,"scale":{"type":"threshold","domain":[1.75,2,2.25,2.5,2.75,3,3.25],"range":["#7b2a8e","#1c429c","#00a5d4","#43b14b","#78be43","#ede71f","#f47a20","#e42525"]}}}},
{"data":{"values":[{"p":0,"v":3.5,"label":"T"}]},"mark":{"type":"text","font":"Liberation Sans Narrow","fontSize":20,"fontStyle":"italic","align":"left","baseline":"alphabetic","dy":-14,"color":"#222"},"encoding":{"x":{"field":"p","type":"quantitative","scale":{"domain":[0,1],"nice":false,"zero":false},"axis":null},"y":{"field":"v","type":"quantitative","scale":{"domain":[1.5,3.5],"nice":false,"zero":false}},"text":{"field":"label"}}},
{"data":{"values":[{"p":0.8,"v":3.5,"label":", °C"}]},"mark":{"type":"text","font":"Liberation Sans Narrow","fontSize":20,"align":"left","baseline":"alphabetic","dy":-14,"color":"#222"},"encoding":{"x":{"field":"p","type":"quantitative","scale":{"domain":[0,1],"nice":false,"zero":false},"axis":null},"y":{"field":"v","type":"quantitative","scale":{"domain":[1.5,3.5],"nice":false,"zero":false}},"text":{"field":"label"}}}
]}
]
}
